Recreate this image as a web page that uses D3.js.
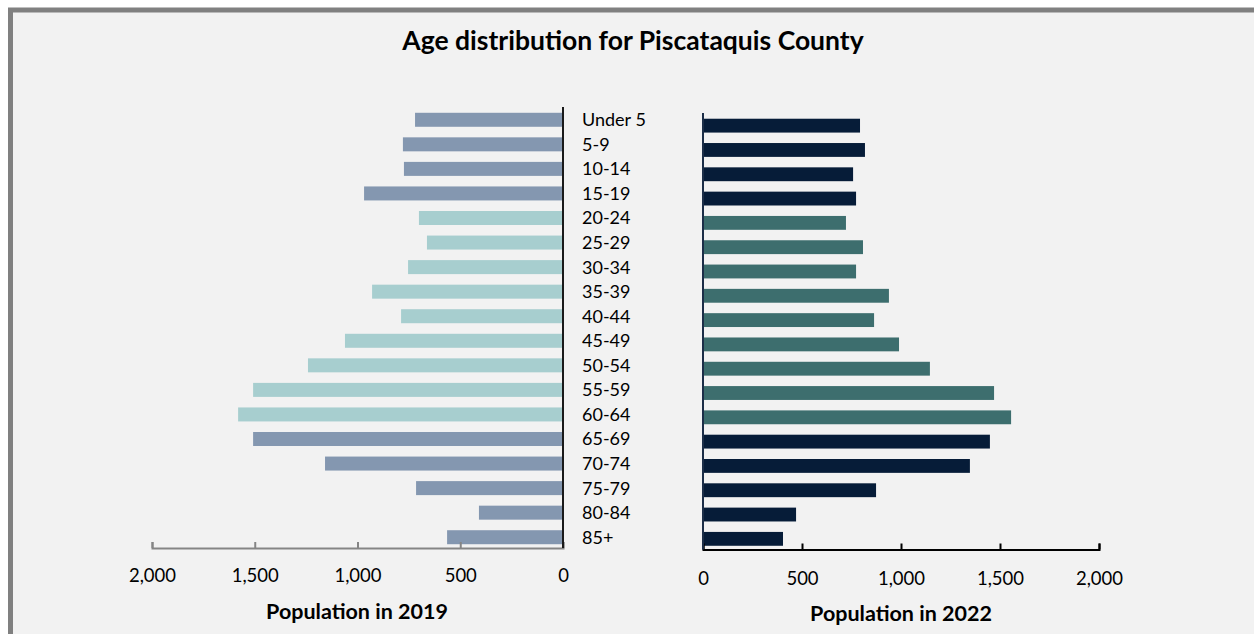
<!DOCTYPE html>
<html>
<head>
<meta charset="utf-8">
<script src="https://cdn.jsdelivr.net/npm/d3@7"></script>
<style>
  body{margin:0;background:#fff;}
  text{font-family:Lato,"Open Sans",sans-serif;fill:#000;}
</style>
</head>
<body>
<script>
// age groups, top to bottom
var ages = ['Under 5','5-9','10-14','15-19','20-24','25-29','30-34','35-39','40-44',
  '45-49','50-54','55-59','60-64','65-69','70-74','75-79','80-84','85+'];
// which colour band each row falls in
var bands = ['outer','outer','outer','outer','mid','mid','mid','mid','mid',
  'mid','mid','mid','mid','outer','outer','outer','outer','outer'];
var pop2019 = [720,779,774,968,701,662,754,929,788,1061,1241,1508,1581,1508,1158,715,409,564];
var pop2022 = [793,818,758,773,722,808,773,939,864,990,1146,1470,1556,1449,1348,874,470,404];
var ticks = [0,500,1000,1500,2000];

var W = 1254, H = 634;
var svg = d3.select('body').append('svg').attr('width',W).attr('height',H);

// panel bg + border (cropped right/bottom like the original)
svg.append('rect').attr('x',10.5).attr('y',10).attr('width',W+20).attr('height',H+20)
  .attr('fill','#f2f2f2').attr('stroke','#808080').attr('stroke-width',5);

svg.append('text').attr('x',633).attr('y',50).attr('text-anchor','middle')
  .style('font-size','26.5px').style('font-weight','bold')
  .text('Age distribution for Piscataquis County');

var fmt = d3.format(',');

// ---- left side: 2019 ----
var xL = d3.scaleLinear().domain([0,2000]).range([563,152]);
var yL = d3.scaleBand().domain(ages).range([107.5,549.5]).paddingInner(0.43).paddingOuter(0.215);
var colL = {outer:'#8497b0', mid:'#a7cecf'};

svg.append('g').selectAll('rect').data(pop2019).enter().append('rect')
  .attr('x',function(d){return xL(d)})
  .attr('y',function(d,i){return yL(ages[i])})
  .attr('width',function(d){return xL(0)-xL(d)})
  .attr('height',yL.bandwidth())
  .attr('fill',function(d,i){return colL[bands[i]]});

var axL = svg.append('g').attr('transform','translate(0,548)')
  .call(d3.axisBottom(xL).tickValues(ticks).tickFormat(fmt).tickSizeInner(-6).tickSizeOuter(-6).tickPadding(21));
axL.selectAll('path,line').attr('stroke','#858585').attr('stroke-width',2);
axL.selectAll('text').style('font-size','18.5px').attr('fill','#000');

svg.append('line').attr('x1',563).attr('x2',563).attr('y1',107).attr('y2',548)
  .attr('stroke','#1a1a1a').attr('stroke-width',2);

svg.append('text').attr('x',357).attr('y',619).attr('text-anchor','middle')
  .style('font-size','21.5px').style('font-weight','bold').text('Population in 2019');

// ---- right side: 2022 ----
var xR = d3.scaleLinear().domain([0,2000]).range([703,1099]);
var yR = d3.scaleBand().domain(ages).range([113.5,551]).paddingInner(0.43).paddingOuter(0.215);
var colR = {outer:'#061c38', mid:'#3d6e6e'};

svg.append('g').selectAll('rect').data(pop2022).enter().append('rect')
  .attr('x',xR(0))
  .attr('y',function(d,i){return yR(ages[i])})
  .attr('width',function(d){return xR(d)-xR(0)})
  .attr('height',yR.bandwidth())
  .attr('fill',function(d,i){return colR[bands[i]]});

var axR = svg.append('g').attr('transform','translate(0,549.5)')
  .call(d3.axisBottom(xR).tickValues(ticks).tickFormat(fmt).tickSizeInner(-6).tickSizeOuter(-6).tickPadding(22));
axR.selectAll('path,line').attr('stroke','#000').attr('stroke-width',2);
axR.selectAll('text').style('font-size','18.5px').attr('fill','#000');

svg.append('line').attr('x1',703).attr('x2',703).attr('y1',113).attr('y2',549.5)
  .attr('stroke','#1c2e48').attr('stroke-width',2);

svg.append('text').attr('x',901).attr('y',621).attr('text-anchor','middle')
  .style('font-size','21.5px').style('font-weight','bold').text('Population in 2022');

// age labels in the middle, aligned with the 2019 rows
svg.append('g').selectAll('text').data(ages).enter().append('text')
  .attr('x',582)
  .attr('y',function(d){return yL(d)+yL.bandwidth()/2})
  .attr('dy','0.36em')
  .style('font-size','18px')
  .text(function(d){return d});
</script>
</body>
</html>
